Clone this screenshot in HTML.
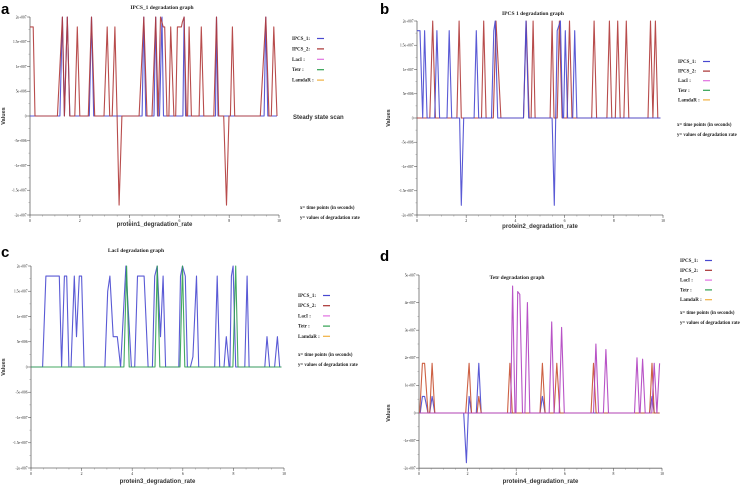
<!DOCTYPE html>
<html><head><meta charset="utf-8"><style>
html,body{margin:0;padding:0;background:#fff;width:747px;height:486px;overflow:hidden}
svg{display:block}
</style></head><body>
<svg id="fig" width="747" height="486" xmlns="http://www.w3.org/2000/svg"></svg>
<script>
// ---------- Panel a data (values in units of 1e7) ----------
const aRedX=[0,0.13,0.2,1.1,1.3,1.38,1.5,1.6,1.8,1.9,2.0,2.34,2.47,2.6,2.97,3.1,3.2,3.3,3.41,3.5,3.58,3.69,4.38,4.57,4.7,4.9,5.05,5.15,5.24,5.35,5.41,5.5,5.58,5.65,5.78,5.85,5.92,6.08,6.12,6.19,6.28,6.33,6.39,6.48,6.79,6.88,6.98,7.38,7.49,7.58,7.78,7.89,7.99,8.05,8.13,8.22,9.25,9.47,9.6,9.69,9.79,9.92];
const aRedY=[1.8,1.8,0,0,2,0,2,0,0,1.8,0,0,2,0,0,1.8,0,0,1.8,0,-1.8,0,0,2,0,0,2,0,2,1.8,1.8,0,0,1.8,0,0,1.8,1.8,1.9,2,0,0,1.8,0,0,1.8,0,0,2,0,0,-1.8,0,0,1.8,0,0,2,0,0,1.8,0];
const aBlueX=[0,1.2,1.3,1.38,1.5,1.6,2.38,2.47,2.56,4.5,4.57,4.65,4.98,5.05,5.12,5.2,5.3,5.36,6.14,6.19,6.25,7.45,7.49,7.55,9.4,9.47,9.55,9.92];
const aBlueY=[0,0,2,0,2,0,0,2,0,0,2,0,0,2,0,0,2,0,0,2,0,0,2,0,0,2,0,0];
// ---------- Panel b data ----------
const bBlueX=[0,0.12,0.23,0.31,0.41,0.72,0.81,0.92,1.22,1.31,1.41,1.73,1.8,1.9,2.32,2.41,2.51,3.03,3.12,3.18,3.28,4.33,4.43,4.54,5.49,5.58,5.64,5.7,5.83,5.92,5.96,6.03,6.12,6.33,6.41,6.5,9.9];
const bBlueY=[1.8,1.8,0,1.8,0,0,1.8,0,0,1.8,0,0,-1.8,0,0,1.8,0,0,1.8,2,0,0,2,0,0,-1.8,0,1.8,2,0,0,1.8,0,0,1.8,0,0];
const bRedX=[0,0.52,0.64,0.75,1.62,1.71,1.8,2.62,2.71,2.81,3.1,3.21,3.41,4.33,4.44,4.56,4.64,4.72,4.8,5.41,5.49,5.57,5.7,5.79,5.9,6.1,6.2,6.3,7.1,7.2,7.3,7.72,7.82,7.92,8.06,8.16,8.26,8.41,8.51,8.61,9.39,9.49,9.59,9.69,9.79,9.9];
const bRedY=[0,0,2,0,0,2,0,0,2,0,0,2,0,0,2,0,0,2,0,0,2,0,0,2,0,0,2,0,0,2,0,0,2,0,0,2,0,0,2,0,0,2,0,2,0,0];
// ---------- Panel c data ----------
const cBlueX=[0,0.46,0.59,1.12,1.21,1.32,1.41,1.5,1.58,1.71,1.8,1.91,2.0,2.1,2.92,3.03,3.12,3.25,3.41,3.54,3.75,3.97,4.1,4.21,4.47,4.63,4.8,4.89,4.99,5.12,5.22,5.32,5.84,5.91,5.99,6.1,6.18,6.3,6.4,6.54,6.63,7.26,7.36,7.46,7.63,7.72,7.83,7.86,7.92,7.99,8.09,8.45,8.54,8.62,9.24,9.33,9.43,9.63,9.74,9.83,9.9];
const cBlueY=[0,0,1.8,1.8,0,1.8,1.8,0,0,1.8,0.6,1.8,1.8,0,0,1.5,1.8,0.6,0.6,0,2,0,0,1.8,1.8,0,0,1.8,2,0.6,1.8,0,0,1.8,2,1.8,0,0,0.2,1.8,0,0,1.8,0,0,0.6,0,0,1.8,2,0,0,1.8,0,0,0.6,0,0,0.6,0,0];
const cGreenX=[0,3.67,3.78,3.88,4.9,4.99,5.09,5.89,5.99,6.08,7.98,8.09,8.18,9.9];
const cGreenY=[0,0,2,0,0,2,0,0,2,0,0,2,0,0];
// ---------- Panel d data ----------
const dRedX=[0,0.03,0.14,0.23,0.37,0.44,0.54,0.65,1.92,2.06,2.16,2.39,2.46,2.56,3.64,3.74,3.84,4.98,5.08,5.19,5.56,5.67,5.8,7.08,7.18,7.29,9.49,9.59,9.68,9.9];
const dRedY=[0,0,1.8,1.8,0,0,1.8,0,0,1.8,0,0,0.6,0,0,1.8,0,0,1.8,0,0,1.8,0,0,1.8,0,0,1.8,0,0];
const dBlueX=[0,0.05,0.14,0.23,0.37,0.44,0.54,0.65,1.84,1.95,2.03,2.06,2.16,2.36,2.46,2.56,4.98,5.08,5.19,9.49,9.59,9.68,9.9];
const dBlueY=[0,0,0.6,0.6,0,0,0.6,0,0,-1.8,0,0.6,0,0,1.8,0,0,0.6,0,0,0.6,0,0];
const dMagX=[0,3.77,3.85,3.95,3.99,4.06,4.15,4.26,4.36,4.46,4.56,5.36,5.46,5.56,5.77,5.87,5.98,7.18,7.28,7.39,7.59,7.69,7.8,8.87,8.97,9.07,9.1,9.2,9.31,9.58,9.68,9.79,9.9];
const dMagY=[0,0,4.6,0,0,4.4,4.3,0,0,4.0,0,0,3.3,0,0,3.1,0,0,2.5,0,0,2.3,0,0,2.0,0,0,1.95,0,0,1.8,0,1.8];
const dOrangeX=[0,9.9];
const dOrangeY=[0,0];

const yTicksStd=["2e+007","1.5e+007","1e+007","5e+006","0","-5e+006","-1e+007","-1.5e+007","-2e+007"];
const yTickValsStd=[2,1.5,1,0.5,0,-0.5,-1,-1.5,-2];
const yTicksD=["5e+007","4e+007","3e+007","2e+007","1e+007","0","-1e+007","-2e+007"];
const yTickValsD=[5,4,3,2,1,0,-1,-2];
const xTickVals=[0,2,4,6,8,10];
const legendNames=["IPCS_1:","IPCS_2:","LacI   :","Tetr    :","LamdaR :"];
const legendColors=["#4848d0","#a83030","#e070e0","#30a050","#f0b040"];

const NS="http://www.w3.org/2000/svg";
const fig=document.getElementById('fig');
function el(tag,attrs,parent){const e=document.createElementNS(NS,tag);for(const k in attrs)e.setAttribute(k,attrs[k]);(parent||fig).appendChild(e);return e;}
function txt(x,y,s,size,parent,extra){const t=el('text',Object.assign({x:x,y:y,'font-size':size,'font-family':'"Liberation Serif",serif',fill:'#222'},extra||{}),parent);t.textContent=s;return t;}

function panel(p){
  const g=el('g',{});
  
  
  const sx=v=>p.x0+(v/10)*(p.x1-p.x0);
  const sy=v=>p.yz-(v/p.unit)*(p.yz-p.yt);
  const yb=sy(p.ymin);
  // letter
  const L=txt(p.lx,p.ly,p.letter,15,g,{'font-family':'"Liberation Sans",sans-serif','font-weight':'bold',fill:'#000'});
  
  
  const T=txt(p.tx,p.ty,p.title,5.5,g,{'text-anchor':'middle','font-weight':'bold'});
  
  
  // axes
  const ax=el('g',{},g);
  
  
  el('line',{x1:p.x0,y1:p.yt,x2:p.x0,y2:yb,stroke:'#666','stroke-width':0.8},ax);
  el('line',{x1:p.x0,y1:yb,x2:p.x1,y2:yb,stroke:'#666','stroke-width':0.8},ax);
  for(let v=p.ymin;v<=p.ymax+1e-9;v+=p.minor){el('line',{x1:p.x0-1.5,y1:sy(v),x2:p.x0,y2:sy(v),stroke:'#888','stroke-width':0.5},ax);}
  for(let v=0;v<=10.001;v+=0.5){el('line',{x1:sx(v),y1:yb,x2:sx(v),y2:yb+1.5,stroke:'#888','stroke-width':0.5},ax);}
  p.yv.forEach((v,i)=>{el('line',{x1:p.x0-3,y1:sy(v),x2:p.x0,y2:sy(v),stroke:'#666','stroke-width':0.6},ax);
    const t=txt(p.x0-3.5,sy(v)+1.3,p.yl[i],3.6,ax,{'text-anchor':'end'});
    
    });
  xTickVals.forEach(v=>{el('line',{x1:sx(v),y1:yb,x2:sx(v),y2:yb+3,stroke:'#666','stroke-width':0.6},ax);
    const t=txt(sx(v),yb+7,String(v),3.8,ax,{'text-anchor':'middle'});
    
    });
  const xl=txt((p.x0+p.x1)/2,p.xly,p.xlabel,6,g,{'text-anchor':'middle','font-family':'"Liberation Sans",sans-serif','font-weight':'bold',fill:'#333'});
  
  
  const yl=txt(0,0,'Values',5.5,g,{'text-anchor':'middle','font-family':'"Liberation Sans",sans-serif','font-weight':'bold',fill:'#333',transform:'translate('+p.ylx+','+sy(0)+') rotate(-90)'});
  
  
  // series
  p.series.forEach(s=>{
    const pts=s.x.map((v,i)=>sx(v).toFixed(1)+','+sy(s.y[i]).toFixed(1)).join(' ');
    const pl=el('polyline',{points:pts,fill:'none',stroke:s.c,'stroke-width':1.1,'stroke-linejoin':'round','stroke-opacity':0.9},g);
    
    
  });
  // legend
  const lg=el('g',{},g);
  
  
  legendNames.forEach((n,i)=>{const y=p.legy+i*p.legdy;
    const t=txt(p.legx,y,n,5,lg,{'font-weight':'bold'});
    
    
    el('line',{x1:p.legx+25,y1:y-1.5,x2:p.legx+32,y2:y-1.5,stroke:legendColors[i],'stroke-width':1.2},lg);});
  const n1=txt(p.nx,p.ny,'x= time points (in seconds)',4.8,g,{'font-weight':'bold'});
  
  
  const n2=txt(p.nx,p.ny+10,'y= values of degradation rate',4.8,g,{'font-weight':'bold'});
  
  
}

panel({name:'panel-a',letter:'a',lx:1,ly:14,title:'IPCS_1 degradation graph',tx:162,ty:9,
  x0:30,x1:279,yt:17,yz:116,unit:2,ymin:-2,ymax:2,minor:0.25,yv:yTickValsStd,yl:yTicksStd,
  xlabel:'protein1_degradation_rate',xly:226,ylx:5,legx:292,legy:40,legdy:10.4,nx:300,ny:209,
  series:[{n:'series-ipcs1',c:'#4848d0',x:aBlueX,y:aBlueY},{n:'series-ipcs2',c:'#b03838',x:aRedX,y:aRedY}]});
const ss=txt(293,119,'Steady state scan',6,fig,{'font-family':'"Liberation Sans",sans-serif','font-weight':'bold',fill:'#333'});



panel({name:'panel-b',letter:'b',lx:380,ly:14,title:'IPCS 1 degradation graph',tx:533,ty:15,
  x0:417,x1:663,yt:21,yz:118,unit:2,ymin:-2,ymax:2,minor:0.25,yv:yTickValsStd,yl:yTicksStd,
  xlabel:'protein2_degradation_rate',xly:228,ylx:390,legx:678,legy:63,legdy:9.6,nx:677,ny:126,
  series:[{n:'series-ipcs2',c:'#b03838',x:bRedX,y:bRedY},{n:'series-ipcs1',c:'#4848d0',x:bBlueX,y:bBlueY}]});

panel({name:'panel-c',letter:'c',lx:1,ly:257,title:'LacI degradation graph',tx:136,ty:252,
  x0:31,x1:284,yt:266,yz:367,unit:2,ymin:-2,ymax:2,minor:0.25,yv:yTickValsStd,yl:yTicksStd,
  xlabel:'protein3_degradation_rate',xly:483,ylx:5,legx:298,legy:297,legdy:10.2,nx:298,ny:356,
  series:[{n:'series-ipcs1',c:'#4848d0',x:cBlueX,y:cBlueY},{n:'series-tetr',c:'#30a050',x:cGreenX,y:cGreenY}]});

panel({name:'panel-d',letter:'d',lx:380,ly:261,title:'Tetr degradation graph',tx:517,ty:279,
  x0:419,x1:662,yt:275,yz:413,unit:5,ymin:-2,ymax:5,minor:0.5,yv:yTickValsD,yl:yTicksD,
  xlabel:'protein4_degradation_rate',xly:483,ylx:390,legx:680,legy:262,legdy:9.8,nx:680,ny:314,
  series:[{n:'series-lamdar',c:'#f0b040',x:dOrangeX,y:dOrangeY},{n:'series-ipcs1',c:'#4848d0',x:dBlueX,y:dBlueY},{n:'series-ipcs2',c:'#c85030',x:dRedX,y:dRedY},{n:'series-laci',c:'#b040c0',x:dMagX,y:dMagY}]});
</script>
</body></html>
